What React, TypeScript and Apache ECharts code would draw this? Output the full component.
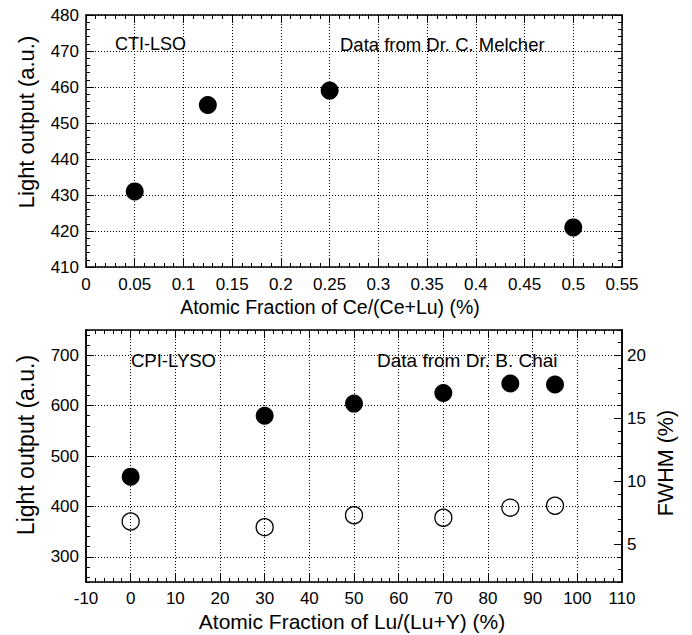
import React, { useEffect, useRef } from "react";
import * as echarts from "echarts";

// Top panel: CTI-LSO
const ceFraction = [0.05, 0.125, 0.25, 0.5];
const ceLightOutput = [431, 455, 459, 421];

// Bottom panel: CPI-LYSO
const luFraction = [0, 30, 50, 70, 85, 95];
const luLightOutput = [459, 580, 604, 625, 644, 642];
const luFWHM = [6.8, 6.35, 7.3, 7.1, 7.9, 8.05];

const FONT = "Liberation Sans";

const axisLine = { show: true, onZero: false, lineStyle: { color: "#000", width: 1.5 } };
const gridLine = { show: true, lineStyle: { color: "#000", width: 1, type: [1, 2] } };
const label = (extra: any = {}) => ({
  show: true,
  color: "#000",
  fontSize: 17,
  fontFamily: FONT,
  ...extra,
});
const noLabel = { show: false };
const majorTick = { show: true, inside: true, length: 8, lineStyle: { color: "#000", width: 1 } };
const minorTick = { show: true, splitNumber: 5, length: 4, lineStyle: { color: "#000", width: 1 } };

export default function App() {
  const ref = useRef<HTMLDivElement>(null);
  useEffect(() => {
    const chart = echarts.init(ref.current!, null, { renderer: "svg" });
    const fmt2 = (v: number) => String(+v.toFixed(2));
    const option: any = {
      animation: false,
      backgroundColor: "#fff",
      grid: [
        { left: 86, top: 15, width: 536, height: 252 },
        { left: 86, top: 330, width: 536, height: 252 },
      ],
      xAxis: [
        {
          type: "value", gridIndex: 0, position: "bottom", min: 0, max: 0.55, interval: 0.05,
          axisLine, axisTick: majorTick, minorTick,
          axisLabel: label({ margin: 9, formatter: fmt2 }),
          splitLine: gridLine,
        },
        {
          type: "value", gridIndex: 0, position: "top", min: 0, max: 0.55, interval: 0.05,
          axisLine, axisTick: majorTick, minorTick, axisLabel: noLabel, splitLine: { show: false },
        },
        {
          type: "value", gridIndex: 1, position: "bottom", min: -10, max: 110, interval: 10,
          axisLine, axisTick: majorTick, minorTick,
          axisLabel: label({ margin: 8 }),
          splitLine: gridLine,
        },
        {
          type: "value", gridIndex: 1, position: "top", min: -10, max: 110, interval: 10,
          axisLine, axisTick: majorTick, minorTick, axisLabel: noLabel, splitLine: { show: false },
        },
      ],
      yAxis: [
        {
          type: "value", gridIndex: 0, position: "left", min: 410, max: 480, interval: 10,
          axisLine, axisTick: majorTick, minorTick,
          axisLabel: label({ margin: 7 }),
          splitLine: gridLine,
        },
        {
          type: "value", gridIndex: 0, position: "right", min: 410, max: 480, interval: 10,
          axisLine, axisTick: majorTick, minorTick, axisLabel: noLabel, splitLine: { show: false },
        },
        {
          type: "value", gridIndex: 1, position: "left", min: 250, max: 750, splitNumber: 5,
          axisLine, axisTick: majorTick, minorTick: { show: false },
          axisLabel: label({ margin: 7, showMinLabel: false, showMaxLabel: false }),
          splitLine: gridLine,
        },
        {
          type: "value", gridIndex: 1, position: "left", min: 250, max: 750, splitNumber: 25,
          axisLine, axisTick: { ...majorTick, length: 4 }, minorTick: { show: false },
          axisLabel: noLabel, splitLine: { show: false },
        },
        {
          type: "value", gridIndex: 1, position: "right", min: 2, max: 22, splitNumber: 4,
          axisLine, axisTick: majorTick, minorTick: { show: false },
          axisLabel: label({ margin: 5, showMinLabel: false, showMaxLabel: false }),
          splitLine: { show: false },
        },
        {
          type: "value", gridIndex: 1, position: "right", min: 2, max: 22, interval: 1,
          axisLine, axisTick: { ...majorTick, length: 4 }, minorTick: { show: false },
          axisLabel: noLabel, splitLine: { show: false },
        },
      ],
      series: [
        {
          type: "scatter", xAxisIndex: 0, yAxisIndex: 0, symbol: "circle", symbolSize: 18,
          itemStyle: { color: "#000", opacity: 1 },
          data: ceFraction.map((x, i) => [x, ceLightOutput[i]]),
        },
        {
          type: "scatter", xAxisIndex: 2, yAxisIndex: 2, symbol: "circle", symbolSize: 18,
          itemStyle: { color: "#000", opacity: 1 },
          data: luFraction.map((x, i) => [x, luLightOutput[i]]),
        },
        {
          type: "scatter", xAxisIndex: 2, yAxisIndex: 4, symbol: "circle", symbolSize: 17,
          itemStyle: { color: "rgba(0,0,0,0)", borderColor: "#000", borderWidth: 1.3, opacity: 1 },
          data: luFraction.map((x, i) => [x, luFWHM[i]]),
        },
      ],
      graphic: [
        { type: "text", x: 115, y: 44, style: { text: "CTI-LSO", fill: "#000", fontSize: 18, fontFamily: FONT, textAlign: "left", textVerticalAlign: "middle" } },
        { type: "text", x: 340, y: 44, style: { text: "Data from Dr. C. Melcher", fill: "#000", fontSize: 18.5, fontFamily: FONT, textAlign: "left", textVerticalAlign: "middle" } },
        { type: "text", x: 131, y: 360, style: { text: "CPI-LYSO", fill: "#000", fontSize: 18.5, fontFamily: FONT, textAlign: "left", textVerticalAlign: "middle" } },
        { type: "text", x: 377, y: 360, style: { text: "Data from Dr. B. Chai", fill: "#000", fontSize: 19, fontFamily: FONT, textAlign: "left", textVerticalAlign: "middle" } },
        { type: "text", x: 330, y: 307, style: { text: "Atomic Fraction of Ce/(Ce+Lu) (%)", fill: "#000", fontSize: 19.5, fontFamily: FONT, textAlign: "center", textVerticalAlign: "middle" } },
        { type: "text", x: 352, y: 621, style: { text: "Atomic Fraction of Lu/(Lu+Y) (%)", fill: "#000", fontSize: 21, fontFamily: FONT, textAlign: "center", textVerticalAlign: "middle" } },
        { type: "text", x: 26, y: 122, rotation: Math.PI / 2, style: { text: "Light output (a.u.)", fill: "#000", fontSize: 22, fontFamily: FONT, textAlign: "center", textVerticalAlign: "middle" } },
        { type: "text", x: 26, y: 445, rotation: Math.PI / 2, style: { text: "Light output (a.u.)", fill: "#000", fontSize: 23, fontFamily: FONT, textAlign: "center", textVerticalAlign: "middle" } },
        { type: "text", x: 666, y: 463, rotation: Math.PI / 2, style: { text: "FWHM (%)", fill: "#000", fontSize: 21.5, fontFamily: FONT, textAlign: "center", textVerticalAlign: "middle" } },
      ],
    };
    chart.setOption(option);
    return () => chart.dispose();
  }, []);
  return (
    <div
      ref={ref}
      style={{ position: "fixed", left: 0, top: 0, width: 692, height: 635, background: "#fff" }}
    />
  );
}
